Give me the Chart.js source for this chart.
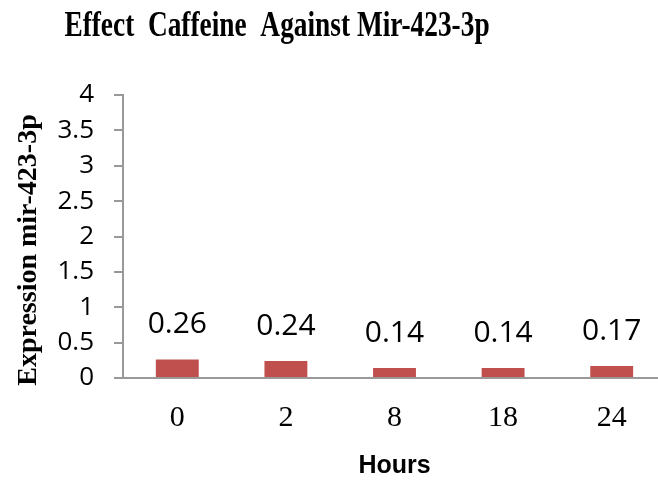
<!DOCTYPE html>
<html>
<head>
<meta charset="utf-8">
<script src="https://cdn.jsdelivr.net/npm/chart.js@4"></script>
<style>
  html, body { margin: 0; padding: 0; background: #fff; overflow: hidden; }
  #wrap { width: 670px; height: 481px; }
</style>
</head>
<body>
<div id="wrap"><canvas id="chart"></canvas></div>
<script>
// Data
const hours = ['0', '2', '8', '18', '24'];
const expression = [0.26, 0.24, 0.14, 0.14, 0.17];
const valueLabels = ['0.26', '0.24', '0.14', '0.14', '0.17'];

const titleText = 'Effect  Caffeine  Against Mir-423-3p';
const yTitle = 'Expression mir-423-3p';

// title, y axis title and the value above each bar
const extras = {
  id: 'extras',
  afterDatasetsDraw(chart) {
    const c = chart.ctx;
    c.save();
    c.fillStyle = '#000';
    c.textAlign = 'center';

    // title is drawn tall and narrow like the original
    c.save();
    c.translate(277, 36);
    c.scale(0.76, 1);
    c.textBaseline = 'alphabetic';
    c.font = 'bold 36px "Liberation Serif", serif';
    c.fillText(titleText, 0, 0);
    c.restore();

    c.save();
    c.translate(29, 250);
    c.rotate(-Math.PI / 2);
    c.textBaseline = 'middle';
    c.font = 'bold 28px "Liberation Serif", serif';
    c.fillText(yTitle, 0, 0);
    c.restore();

    c.textBaseline = 'middle';
    c.font = '30px "Open Sans", sans-serif';
    chart.getDatasetMeta(0).data.forEach((bar, i) => {
      c.fillText(valueLabels[i], bar.x, bar.y - 35);
    });
    c.restore();
  }
};

new Chart(document.getElementById('chart'), {
  type: 'bar',
  data: {
    labels: hours,
    datasets: [{
      data: expression,
      backgroundColor: '#C0504D',
      barPercentage: 0.395,
      categoryPercentage: 1
    }]
  },
  options: {
    responsive: true,
    maintainAspectRatio: false,
    animation: false,
    layout: { padding: { top: 95, right: 4, left: 0, bottom: 0 } },
    plugins: {
      legend: { display: false },
      tooltip: { enabled: false }
    },
    scales: {
      x: {
        afterFit: s => { s.height = 103; },
        grid: { display: false },
        border: { color: '#999', width: 2 },
        ticks: { color: '#000', font: { family: '"Liberation Serif", serif', size: 30 }, padding: 14 },
        title: {
          display: true,
          text: 'Hours',
          color: '#000',
          font: { family: '"Liberation Sans", sans-serif', size: 25, weight: 'bold', lineHeight: 1 },
          padding: { top: 0, bottom: 2 }
        }
      },
      y: {
        min: 0,
        max: 4,
        afterFit: s => { s.width = 123; },
        grid: { display: true, drawOnChartArea: false, color: '#999', lineWidth: 2, tickLength: 9 },
        border: { color: '#999', width: 2 },
        ticks: {
          stepSize: 0.5,
          color: '#000',
          padding: 20,
          font: { family: '"Open Sans", sans-serif', size: 26 },
          callback: v => String(v)
        }
      }
    }
  },
  plugins: [extras]
});
</script>
</body>
</html>
